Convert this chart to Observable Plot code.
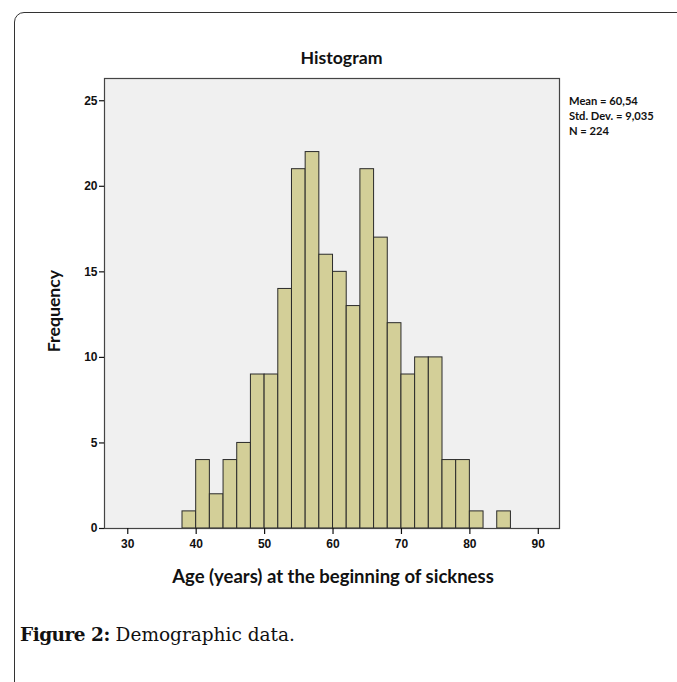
<!DOCTYPE html>
<html>
<head>
<meta charset="utf-8">
<script src="https://cdn.jsdelivr.net/npm/d3@7"></script>
<script src="https://cdn.jsdelivr.net/npm/@observablehq/plot@0.6"></script>
<style>
  html, body { margin: 0; padding: 0; background: #fff; }
  #wrap { position: relative; width: 677px; height: 682px; overflow: hidden; background: #fff; }
  #border { position: absolute; left: 14px; top: 12px; width: 700px; height: 700px; border: 1.3px solid #333; border-radius: 10px; box-sizing: border-box; }
  #chart { position: absolute; left: 0; top: 0; }
  .t { position: absolute; font-family: Lato, "Open Sans", sans-serif; font-weight: bold; color: #111; white-space: nowrap; }
  #title { left: 0; width: 683px; text-align: center; top: 47px; font-size: 17.7px; }
  #stats { left: 569px; top: 93px; font-size: 11.2px; line-height: 15px; }
  #ylab { left: 53px; top: 311px; font-size: 17.7px; transform: translate(-50%, -50%) rotate(-90deg); }
  #xlab { left: 0; width: 666px; text-align: center; top: 565px; font-size: 18.5px; }
  #caption { position: absolute; left: 20px; top: 624px; font-family: "DejaVu Serif", "Liberation Serif", serif; font-size: 18.5px; color: #111; white-space: nowrap; }
  #caption b { font-weight: bold; letter-spacing: -0.5px; }
</style>
</head>
<body>
<div id="wrap">
  <div id="border"></div>
  <div id="chart"></div>
  <div class="t" id="title">Histogram</div>
  <div class="t" id="stats"></div>
  <div class="t" id="ylab">Frequency</div>
  <div class="t" id="xlab">Age (years) at the beginning of sickness</div>
  <div id="caption"><b>Figure 2:</b> Demographic data.</div>
</div>
<script>
// Data (bin starts, width 2 years)
const binStart = [38, 40, 42, 44, 46, 48, 50, 52, 54, 56, 58, 60, 62, 64, 66, 68, 70, 72, 74, 76, 78, 80, 82, 84];
const counts   = [ 1,  4,  2,  4,  5,  9,  9, 14, 21, 22, 16, 15, 13, 21, 17, 12,  9, 10, 10,  4,  4,  1,  0,  1];
const binWidth = 2;
const xTicks = [30, 40, 50, 60, 70, 80, 90];
const yTicks = [0, 5, 10, 15, 20, 25];
const statLines = ["Mean = 60,54", "Std. Dev. = 9,035", "N = 224"];

const bins = binStart.map((s, i) => ({x1: s, x2: s + binWidth, count: counts[i]})).filter(d => d.count > 0);

document.getElementById("stats").innerHTML = statLines.join("<br>");

const chart = Plot.plot({
  width: 677,
  height: 600,
  marginLeft: 104,
  marginRight: 118,
  marginTop: 78,
  marginBottom: 72,
  style: {fontFamily: "'Liberation Sans', Arial, sans-serif", fontSize: "12px", fontWeight: "bold", color: "#111", background: "transparent"},
  x: {domain: [26.6, 93.1], ticks: xTicks, tickSize: 6, tickPadding: 5, label: null},
  y: {domain: [0, 26.3], ticks: yTicks, tickSize: 5, tickPadding: 2, label: null},
  marks: [
    Plot.frame({fill: "#f0f0f0", stroke: null}),
    Plot.rectY(bins, {x1: "x1", x2: "x2", y: "count", fill: "#d3cf98", stroke: "#2a2a2a", strokeWidth: 1, inset: 0}),
    Plot.frame({stroke: "#444", strokeWidth: 1.2}),
    Plot.axisX({ticks: xTicks, tickSize: 6, tickPadding: 5, stroke: "#111", strokeWidth: 1.2}),
    Plot.axisY({ticks: yTicks, tickSize: 5, tickPadding: 2, stroke: "#111", strokeWidth: 1.2})
  ]
});
document.getElementById("chart").appendChild(chart);
</script>
</body>
</html>
